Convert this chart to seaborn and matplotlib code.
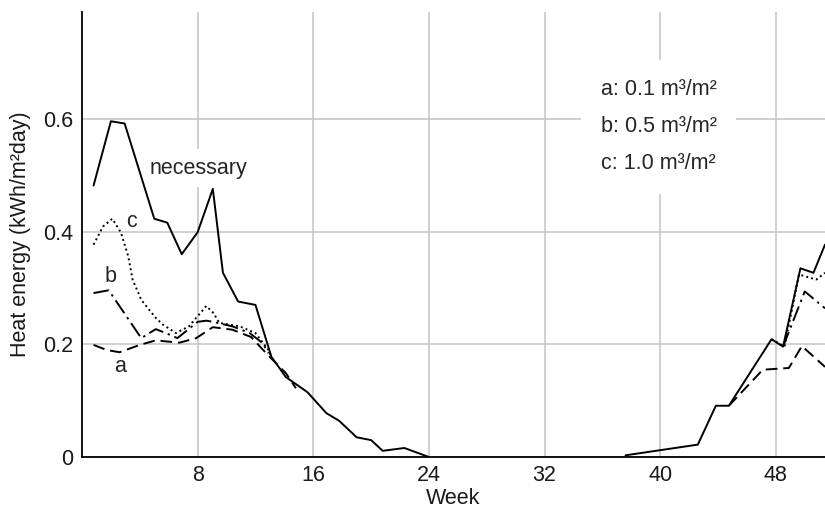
import numpy as np
import pandas as pd
import matplotlib
matplotlib.use("Agg")
import matplotlib.pyplot as plt
import seaborn as sns

# necessary heat energy (two parts of the year)
nec_wk1 = [0.8, 2.0, 2.95, 5.0, 5.9, 6.9, 8.0, 9.05, 9.75, 10.8, 12.0, 13.1, 14.1,
           15.6, 16.9, 17.8, 19.0, 20.0, 20.8, 22.3, 24.0]
nec_val1 = [0.482, 0.596, 0.592, 0.423, 0.416, 0.360, 0.399, 0.476, 0.327, 0.276,
            0.270, 0.178, 0.142, 0.115, 0.078, 0.064, 0.035, 0.030, 0.011, 0.016, 0.0]
nec_wk2 = [37.6, 42.6, 43.85, 44.75, 47.7, 48.5, 49.7, 50.6, 51.4]
nec_val2 = [0.003, 0.022, 0.091, 0.091, 0.209, 0.196, 0.335, 0.327, 0.377]

# a: 0.1 m3/m2
a_wk1 = [0.8, 1.7, 2.6, 4.0, 5.1, 6.75, 7.9, 9.05, 10.4, 11.7, 12.75, 14.1, 14.8]
a_val1 = [0.199, 0.190, 0.186, 0.199, 0.207, 0.203, 0.211, 0.2305, 0.226, 0.213,
          0.184, 0.149, 0.122]
a_wk2 = [44.75, 47.1, 48.9, 49.8, 51.4]
a_val2 = [0.091, 0.155, 0.158, 0.197, 0.160]

# b: 0.5 m3/m2
b_wk1 = [0.8, 1.85, 4.1, 5.1, 5.8, 6.6, 8.0, 8.6, 9.05, 10.4, 11.6, 12.5, 12.9]
b_val1 = [0.291, 0.296, 0.211, 0.227, 0.220, 0.211, 0.240, 0.242, 0.240, 0.232,
          0.220, 0.202, 0.184]
b_wk2 = [48.5, 50.0, 51.4]
b_val2 = [0.196, 0.294, 0.264]

# c: 1.0 m3/m2
c_wk1 = [0.8, 1.45, 2.1, 2.7, 3.2, 3.5, 4.1, 5.1, 5.6, 6.5, 7.4, 8.6, 9.1, 9.5,
         10.9, 12.0, 12.9, 13.1]
c_val1 = [0.377, 0.409, 0.423, 0.398, 0.356, 0.315, 0.279, 0.247, 0.235, 0.220,
          0.232, 0.268, 0.2555, 0.238, 0.232, 0.220, 0.190, 0.178]
c_wk2 = [47.7, 48.6, 49.6, 50.8, 51.4]
c_val2 = [0.209, 0.196, 0.324, 0.315, 0.327]

x_ticks = [8, 16, 24, 32, 40, 48]
y_ticks = [0, 0.2, 0.4, 0.6]
y_ticklabels = ["0", "0.2", "0.4", "0.6"]

sns.set_style("whitegrid")
plt.rcParams['font.family'] = ['Liberation Sans', 'DejaVu Sans']

fig = plt.figure(figsize=(8.25, 5.12), dpi=100)
ax = fig.add_axes([0.0994, 0.1074, 0.9006, 0.8692])

styles = {
    'necessary': '-',
    'a': (0, (6, 3)),
    'b': (0, (8, 2.5, 1.2, 2.5)),
    'c': (0, (1, 1.6)),
}
segments = [
    ('necessary', nec_wk1, nec_val1), ('necessary', nec_wk2, nec_val2),
    ('a', a_wk1, a_val1), ('a', a_wk2, a_val2),
    ('b', b_wk1, b_val1), ('b', b_wk2, b_val2),
    ('c', c_wk1, c_val1), ('c', c_wk2, c_val2),
]
for name, wk, val in segments:
    df = pd.DataFrame({'week': wk, 'heat': val})
    sns.lineplot(data=df, x='week', y='heat', ax=ax, color='black',
                 linewidth=1.4, linestyle=styles[name], estimator=None,
                 sort=False, zorder=3)

ax.set_xlim(0, 51.4)
ax.set_ylim(0, 0.79)
ax.set_xticks(x_ticks)
ax.set_yticks(y_ticks)
ax.set_yticklabels(y_ticklabels)
ax.tick_params(length=0, labelsize=15.5, colors='#1a1a1a', pad=6)
ax.grid(True, color='#c4c4c4', linewidth=1.1)
for side in ['top', 'right']:
    ax.spines[side].set_visible(False)
for side in ['left', 'bottom']:
    ax.spines[side].set_visible(True)
    ax.spines[side].set_color('black')
    ax.spines[side].set_linewidth(1.3)

ax.set_xlabel("Week", fontsize=15.5, color='#1a1a1a', labelpad=1)
ax.set_ylabel("Heat energy (kWh/m²day)", fontsize=15.5, color='#1a1a1a', labelpad=9)

# white boxes sit above the grid but under the curves
box = dict(facecolor='white', edgecolor='none', pad=6)
ax.text(4.7, 0.513, "necessary", fontsize=15.5, va='center', ha='left', bbox=box, zorder=2.5)
ax.text(3.4, 0.418, "c", fontsize=15.5, va='center', ha='center', zorder=4)
ax.text(2.0, 0.320, "b", fontsize=15.5, va='center', ha='center', zorder=4)
ax.text(2.6, 0.160, "a", fontsize=15.5, va='center', ha='center', zorder=4)
ax.text(39.9, 0.586, "a: 0.1 m³/m²\nb: 0.5 m³/m²\nc: 1.0 m³/m²", fontsize=15.5,
        va='center', ha='center', multialignment='left', linespacing=2.0,
        bbox=dict(facecolor='white', edgecolor='none', pad=14), zorder=2.5)

fig.savefig("out.png", dpi=100)
